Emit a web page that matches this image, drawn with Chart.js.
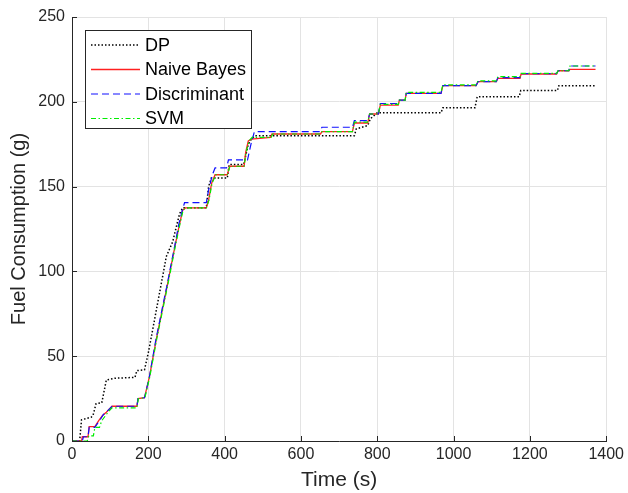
<!DOCTYPE html>
<html>
<head>
<meta charset="utf-8">
<script src="https://cdn.jsdelivr.net/npm/chart.js@4.4.0/dist/chart.umd.min.js"></script>
<style>
  html, body { margin: 0; padding: 0; background: #fff; }
  #wrap { position: relative; width: 628px; height: 493px; }
</style>
</head>
<body>
<div id="wrap"><canvas id="fuelChart"></canvas></div>
<script>
/* Fuel consumption vs time: DP reference against three classifiers */

var xTicks = [0, 200, 400, 600, 800, 1000, 1200, 1400];
var yTicks = [0, 50, 100, 150, 200, 250];
var legendLabels = ["DP", "Naive Bayes", "Discriminant", "SVM"];

// DP
var dpTime = [0, 20, 25, 50, 55, 63, 78, 90, 112, 165, 170, 190, 200, 208, 225, 240, 247, 264, 272, 282, 290,
  352, 358, 365, 407, 412, 450, 462, 470, 480, 740, 745, 775, 782, 800, 967, 972, 1056, 1062, 1172, 1176, 1272, 1276, 1372];
var dpFuel = [0, 0, 12.5, 14, 15, 22, 22.5, 36, 37, 37.5, 41.5, 42, 52, 61.5, 82, 100, 108.7, 117.5, 125, 134, 137.5,
  137.5, 150, 155, 155, 163, 163, 175, 178, 180, 180, 184, 186, 190, 193.5, 193.5, 196.5, 196.5, 203, 203, 206.6, 206.6, 209.5, 209.5];

// Naive Bayes
var nbTime = [0, 25, 27, 42, 45, 60, 70, 80, 90, 105, 170, 173, 190, 203, 221, 250, 270, 281, 290, 297,
  352, 358, 366, 375, 407, 413, 451, 455, 462, 470, 520, 524, 651, 655, 735, 740, 775, 780, 803, 808, 855, 858, 873, 876,
  967, 972, 1059, 1064, 1112, 1116, 1174, 1177, 1270, 1274, 1302, 1305, 1372];
var nbFuel = [0, 0, 2.5, 2.5, 8.5, 8.5, 12, 15, 17, 20.5, 20.5, 25, 25.5, 38, 60, 92, 115, 127, 136, 137.4,
  137.4, 142, 152, 157, 157, 162, 162, 170, 177, 178, 179, 181, 181, 182.4, 182.4, 187.5, 187.5, 192.8, 192.8, 198, 198, 201, 201, 205,
  205, 209.5, 209.5, 211.9, 211.9, 213.8, 213.8, 216.4, 216.4, 218.3, 218.3, 219.1, 219.1];

// Discriminant
var daTime = [0, 27, 30, 42, 45, 60, 72, 82, 92, 105, 170, 173, 190, 203, 220, 250, 270, 280, 289, 295,
  352, 358, 368, 375, 405, 410, 460, 470, 478, 650, 655, 735, 740, 775, 780, 803, 808, 855, 858, 873, 876,
  967, 972, 1059, 1064, 1112, 1116, 1174, 1177, 1270, 1274, 1302, 1305, 1372];
var daFuel = [0, 0, 2.5, 2.5, 8, 8, 12, 15.5, 17.5, 20.5, 20.5, 25, 25.5, 38, 60, 93, 116, 128, 136, 140.5,
  140.5, 148, 157, 161, 161, 165.7, 165.7, 176, 182.4, 182.4, 185, 185, 188.9, 188.9, 192.8, 192.8, 199, 199, 201, 201, 205,
  205, 209.5, 209.5, 211.9, 211.9, 214.3, 214.3, 216.6, 216.6, 218.3, 218.3, 221.1, 221.1];

// SVM
var svmTime = [0, 40, 44, 56, 60, 72, 78, 88, 96, 105, 170, 174, 191, 204, 222, 251, 271, 282, 291, 298,
  352, 359, 367, 377, 407, 414, 451, 456, 464, 472, 522, 526, 651, 655, 735, 740, 775, 780, 803, 808, 855, 858, 873, 876,
  967, 972, 1059, 1064, 1112, 1116, 1174, 1177, 1270, 1274, 1302, 1305, 1372];
var svmFuel = [0, 0, 3, 3, 8, 8, 12, 15, 17.5, 19.5, 19.5, 25, 25.5, 38, 60, 92, 115, 127, 136, 137.4,
  137.4, 142, 152, 157, 157, 162, 162, 170, 177, 179, 179, 181, 181, 182.4, 182.4, 188, 188, 192.8, 192.8, 198.5, 198.5, 201, 201, 205.5,
  205.5, 210, 210, 212.3, 212.3, 214.8, 214.8, 216.8, 216.8, 218.3, 218.3, 221.1, 221.1];

function toPoints(ts, vs) {
  return ts.map(function(t, i) { return { x: t, y: vs[i] }; });
}

var FONT = "'Liberation Sans', Arial, sans-serif";
var AXIS_COLOR = "#262626";

var series = [
  { label: legendLabels[0], data: toPoints(dpTime, dpFuel), borderColor: "#000000", borderWidth: 1.5, borderDash: [1.5, 2], order: 3 },
  { label: legendLabels[1], data: toPoints(nbTime, nbFuel), borderColor: "#ff2020", borderWidth: 1.3, borderDash: [], order: 2 },
  { label: legendLabels[2], data: toPoints(daTime, daFuel), borderColor: "#1010ff", borderWidth: 1.2, borderDash: [7, 4], order: 1 },
  { label: legendLabels[3], data: toPoints(svmTime, svmFuel), borderColor: "#00ee00", borderWidth: 1.2, borderDash: [5, 2.5, 1.5, 2.5], order: 0 }
];
series.forEach(function(s) {
  s.pointRadius = 0;
  s.tension = 0;
  s.fill = false;
});

/* inward ticks + legend box drawn inside the axes, MATLAB style */
var matlabAxes = {
  id: "matlabAxes",
  afterDraw: function(chart) {
    var ctx = chart.ctx, a = chart.chartArea;
    var xs = chart.scales.x, ys = chart.scales.y;
    ctx.save();
    ctx.strokeStyle = AXIS_COLOR;
    ctx.lineWidth = 1;
    ctx.setLineDash([]);
    ctx.beginPath();
    xTicks.forEach(function(v) {
      var px = Math.round(xs.getPixelForValue(v)) + 0.5;
      ctx.moveTo(px, a.bottom);
      ctx.lineTo(px, a.bottom - 5);
    });
    yTicks.forEach(function(v) {
      var py = Math.round(ys.getPixelForValue(v)) + 0.5;
      ctx.moveTo(a.left, py);
      ctx.lineTo(a.left + 5, py);
    });
    ctx.stroke();

    // legend
    var bx = 85.5, by = 30.5, bw = 166, bh = 98;
    ctx.fillStyle = "#ffffff";
    ctx.fillRect(bx, by, bw, bh);
    ctx.strokeStyle = AXIS_COLOR;
    ctx.strokeRect(bx, by, bw, bh);
    ctx.font = "18px " + FONT;
    ctx.textBaseline = "middle";
    ctx.textAlign = "left";
    series.forEach(function(s, i) {
      var y = 45 + i * 24.5;
      ctx.beginPath();
      ctx.strokeStyle = s.borderColor;
      ctx.lineWidth = s.borderWidth;
      ctx.setLineDash(s.borderDash);
      ctx.moveTo(91, y);
      ctx.lineTo(140, y);
      ctx.stroke();
      ctx.fillStyle = "#000000";
      ctx.fillText(s.label, 145, y + 1);
    });
    ctx.restore();
  }
};

new Chart(document.getElementById("fuelChart").getContext("2d"), {
  type: "line",
  data: { datasets: series },
  options: {
    responsive: true, maintainAspectRatio: false, animation: false,
    layout: { padding: { top: 17, right: 19, left: 0, bottom: 0 } },
    plugins: { legend: { display: false }, tooltip: { enabled: false } },
    scales: {
      x: {
        type: "linear", min: 0, max: 1400,
        afterBuildTicks: function(scale) { scale.ticks = xTicks.map(function(v) { return { value: v }; }); },
        afterFit: function(scale) { scale.height = 52; },
        grid: { color: "#e3e3e3", drawTicks: false },
        border: { display: true, color: AXIS_COLOR, width: 1 },
        ticks: { color: AXIS_COLOR, font: { family: FONT, size: 16 }, padding: 4, maxRotation: 0,
          callback: function(v) { return String(v); } },
        title: { display: true, text: "Time (s)", color: AXIS_COLOR, font: { family: FONT, size: 21, lineHeight: 1.2 }, padding: { top: 0, bottom: 0 } }
      },
      y: {
        type: "linear", min: 0, max: 250,
        afterBuildTicks: function(scale) { scale.ticks = yTicks.map(function(v) { return { value: v }; }); },
        afterFit: function(scale) { scale.width = 72; },
        grid: { color: "#e3e3e3", drawTicks: false },
        border: { display: true, color: AXIS_COLOR, width: 1 },
        ticks: { color: AXIS_COLOR, font: { family: FONT, size: 16 }, padding: 7,
          callback: function(v) { return String(v); } },
        title: { display: true, text: "Fuel Consumption (g)", color: AXIS_COLOR, font: { family: FONT, size: 20, lineHeight: 1.2 }, padding: { top: 7, bottom: 0 } }
      }
    }
  },
  plugins: [matlabAxes]
});
</script>
</body>
</html>
